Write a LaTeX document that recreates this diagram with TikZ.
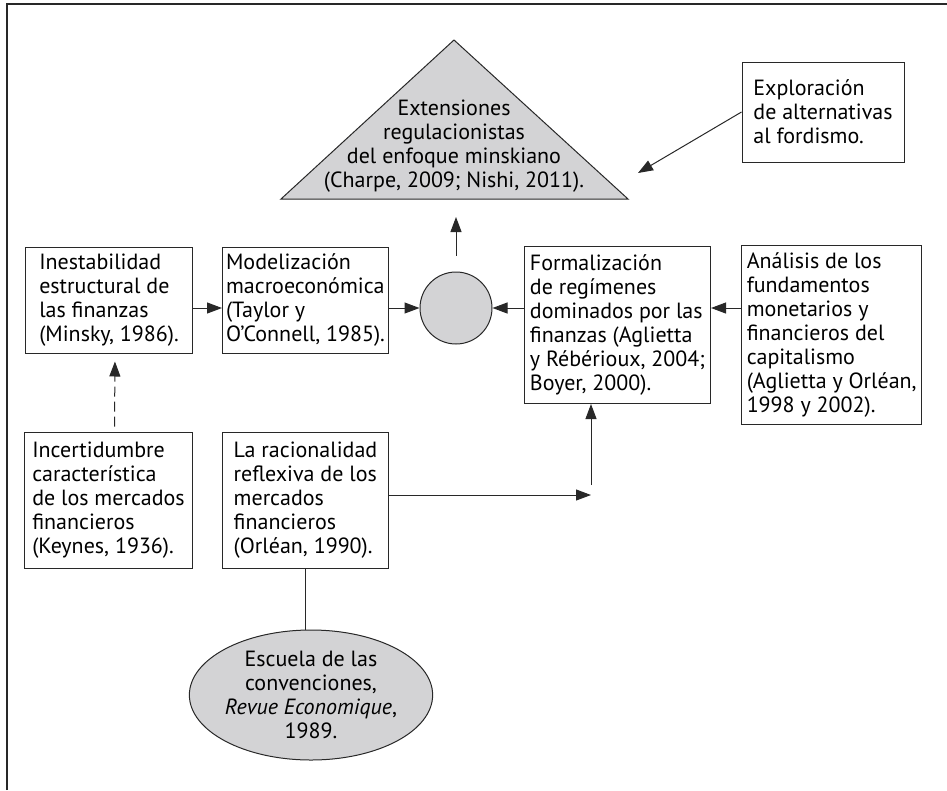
\documentclass[tikz,border=0pt]{standalone}
\usepackage{fontspec}
\setmainfont{PT Sans}
\usetikzlibrary{arrows.meta}
\usetikzlibrary{shapes.geometric}

\definecolor{grisclaro}{RGB}{211,211,213}
\definecolor{trazo}{RGB}{40,40,40}

\tikzset{
  texto/.style={font=\fontsize{22}{24}\selectfont},
  caja/.style={texto, draw=trazo, line width=1pt, align=left, inner sep=0pt},
  gris/.style={draw=trazo, line width=1pt, fill=grisclaro},
  flecha/.style={-{Triangle[length=15pt,width=11pt]}, draw=trazo, line width=1pt},
}

\begin{document}
\begin{tikzpicture}[x=1pt,y=-1pt]
 \useasboundingbox (0,0) rectangle (947,790);
 % marco
 \draw[trazo, line width=1.6pt] (7,790) -- (7,4) -- (947,4);

 % triangulo de arriba
 \draw[gris] (454,40) -- (628,199) -- (281,199) -- cycle;
 \node[texto, align=center] (ext) at (454,146)
   {Extensiones\\regulacionistas\\del enfoque minskiano\\(Charpe, 2009; Nishi, 2011).};
 \coordinate (extbase) at (456,199);
 \coordinate (extpunta) at (638,173);

 \node[caja, minimum width=162pt, minimum height=100pt] (explo) at (823,112)
   {Exploración\\de alternativas\\al fordismo.};

 % fila del medio
 \node[caja, minimum width=167pt, minimum height=106pt] (inest) at (109,300)
   {Inestabilidad\\estructural de\\las finanzas\\(Minsky, 1986).};
 \node[caja, minimum width=166pt, minimum height=106pt] (model) at (305.5,300)
   {Modelización\\macroeconómica\\(Taylor y\\O’Connell, 1985).};
 \node[gris, circle, minimum size=72pt, inner sep=0pt] (hub) at (456,308) {};
 \node[caja, minimum width=186pt, minimum height=157pt] (formal) at (617.5,325)
   {Formalización\\de regímenes\\dominados por las\\finanzas (Aglietta\\y Rébérioux, 2004;\\Boyer, 2000).};
 \node[caja, minimum width=180pt, minimum height=179pt] (anal) at (831.7,335.4)
   {Análisis de los\\fundamentos\\monetarios y\\financieros del\\capitalismo\\(Aglietta y Orléan,\\1998 y 2002).};

 % fila de abajo
 \node[caja, minimum width=168pt, minimum height=136pt] (incert) at (108.5,500)
   {Incertidumbre\\característica\\de los mercados\\financieros\\(Keynes, 1936).};
 \node[caja, minimum width=166pt, minimum height=136pt] (racional) at (305.5,500)
   {La racionalidad\\reflexiva de los\\mercados\\financieros\\(Orléan, 1990).};
 \coordinate (codo) at (591,485);

 \node[gris, ellipse, texto, align=center, minimum width=232pt, minimum height=130pt, inner sep=0pt] (escuela) at (311,695)
   {Escuela de las\\convenciones,\\\textit{Revue Economique},\\1989.};

 % flechas
 \draw[flecha] (inest.east |- hub) -- (model.west |- hub);
 \draw[flecha] (model.east |- hub) -- (hub.west);
 \draw[flecha] (formal.west |- hub) -- (hub.east);
 \draw[flecha] (anal.west |- hub) -- (formal.east |- hub);
 \draw[flecha, shorten <=16pt, shorten >=18pt] (hub.north) -- (extbase);
 \draw[flecha] (explo.west) -- (extpunta);
 \draw[flecha, dash pattern=on 10pt off 5pt, shorten <=5pt, shorten >=8pt]
   ([xshift=6pt]incert.north) -- ([xshift=6pt]inest.south);
 \draw[flecha] ([yshift=5pt]racional.east) -- ([yshift=5pt]racional.east -| codo);
 \draw[flecha] (codo) -- (codo |- formal.south);
 \draw[trazo, line width=1pt] (racional.south) -- (escuela.north -| racional.south);
\end{tikzpicture}
\end{document}
